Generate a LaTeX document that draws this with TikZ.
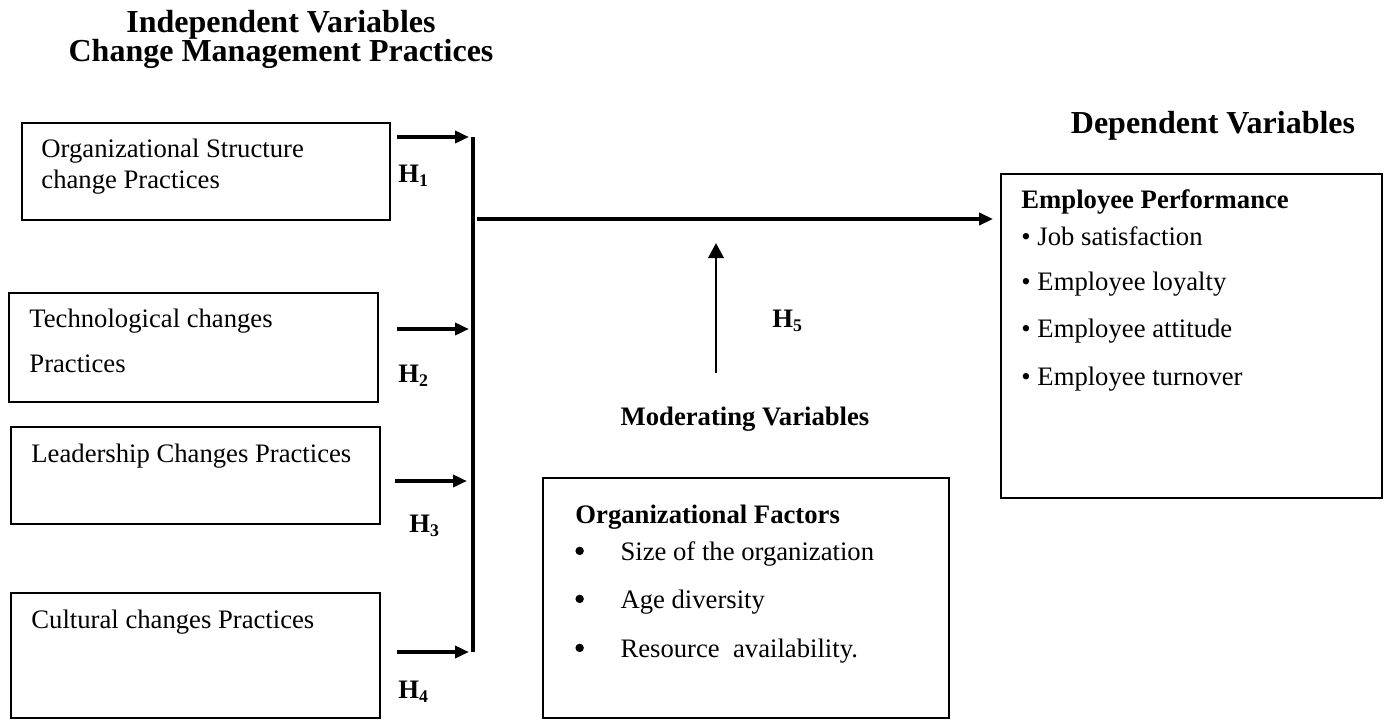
\documentclass[tikz,border=0pt]{standalone}
\usepackage{fontspec}
\setmainfont{Liberation Serif}
\usetikzlibrary{arrows.meta,positioning}
\newcommand{\bigdot}{\makebox[20.3pt][l]{\raisebox{0.4ex}{\tikz\fill (0,0) circle (1.9pt);}}}

\begin{document}
\begin{tikzpicture}[x=0.45pt, y=-0.45pt,
  box/.style={rectangle, draw, line width=0.9pt, anchor=north west, inner sep=0pt},
  txt/.style={anchor=base west, inner sep=0pt, font=\fontsize{12}{14}\selectfont},
  head/.style={anchor=base, inner sep=0pt, font=\fontsize{14.4}{17}\selectfont\bfseries},
  hyp/.style={anchor=base west, inner sep=0pt, font=\fontsize{12}{14}\selectfont\bfseries},
  arr/.style={-{Triangle[length=6.3pt, width=5.4pt]}, line width=1.8pt},
  uparr/.style={-{Triangle[length=6.8pt, width=7pt]}, line width=1pt},
  bar/.style={line width=1.6pt},
]
\useasboundingbox (0,0) rectangle (1389,719);

% HEADINGS
\node[head] (indep1) at (281,32) {Independent Variables};
\node[head] (indep2) at (281,61) {Change Management Practices};
\node[head] (dep) at (1213,133) {Dependent Variables};

% INDEPENDENT BOXES (left)
\node[box, minimum width=165.6pt, minimum height=43.65pt] (orgbox) at (21,122) {};
\node[txt] (org1) at (41,157) {Organizational Structure};
\node[txt] (org2) at (41,188) {change Practices};

\node[box, minimum width=166pt, minimum height=49pt] (techbox) at (8,292) {};
\node[txt] (tech1) at (29,327) {Technological changes};
\node[txt] (tech2) at (29,372) {Practices};

\node[box, minimum width=166pt, minimum height=43.65pt] (leadbox) at (10,426) {};
\node[txt] (lead1) at (31,462) {Leadership Changes Practices};

\node[box, minimum width=166pt, minimum height=56.25pt] (cultbox) at (10,592) {};
\node[txt] (cult1) at (31,628) {Cultural changes Practices};

% HYPOTHESES
\node[hyp] (h1) at (398,182) {H\textsubscript{1}};
\node[hyp] (h2) at (398,382) {H\textsubscript{2}};
\node[hyp] (h3) at (409,532) {H\textsubscript{3}};
\node[hyp] (h4) at (398,698) {H\textsubscript{4}};
\node[hyp] (h5) at (772,327) {H\textsubscript{5}};

% MODERATING
\node[head, font=\fontsize{12}{14}\selectfont\bfseries] (modvar) at (745,425) {Moderating Variables};
\node[box, minimum width=182.7pt, minimum height=108pt] (modbox) at (542,477) {};
\node[hyp] (modhead) at (575,523) {Organizational Factors};
\node[txt] (mod1) at (575,560) {\bigdot Size of the organization};
\node[txt] (mod2) at (575,608) {\bigdot Age diversity};
\node[txt] (mod3) at (575,657) {\bigdot Resource\ \ availability.};

% DEPENDENT BOX
\node[box, minimum width=171.45pt, minimum height=145.8pt] (empbox) at (1000,173) {};
\node[hyp] (emphead) at (1021,208) {Employee Performance};
\node[txt] (emp1) at (1021,245) {\textbullet\ Job satisfaction};
\node[txt] (emp2) at (1021,290) {\textbullet\ Employee loyalty};
\node[txt] (emp3) at (1021,337) {\textbullet\ Employee attitude};
\node[txt] (emp4) at (1021,385) {\textbullet\ Employee turnover};

% CONNECTORS
\coordinate (bartop) at (473,137);
\coordinate (barbot) at (473,652);
\coordinate (in1) at (469,137);
\coordinate (in2) at (469,329);
\coordinate (in3) at (467,481);
\coordinate (in4) at (469,652);
\coordinate (mid) at (477,219);
\coordinate (modbase) at (716,373);

\draw[bar] (bartop) -- (barbot);
\draw[arr] (orgbox.east |- in1) ++(6,0) -- (in1);
\draw[arr] (techbox.east |- in2) ++(18,0) -- (in2);
\draw[arr] (leadbox.east |- in3) ++(14,0) -- (in3);
\draw[arr] (cultbox.east |- in4) ++(16,0) -- (in4);
\draw[arr, shorten >=3.1pt] (mid) -- (empbox.west |- mid);
\draw[uparr, shorten >=10.8pt] (modbase) -- (modbase |- mid);
\end{tikzpicture}
\end{document}
